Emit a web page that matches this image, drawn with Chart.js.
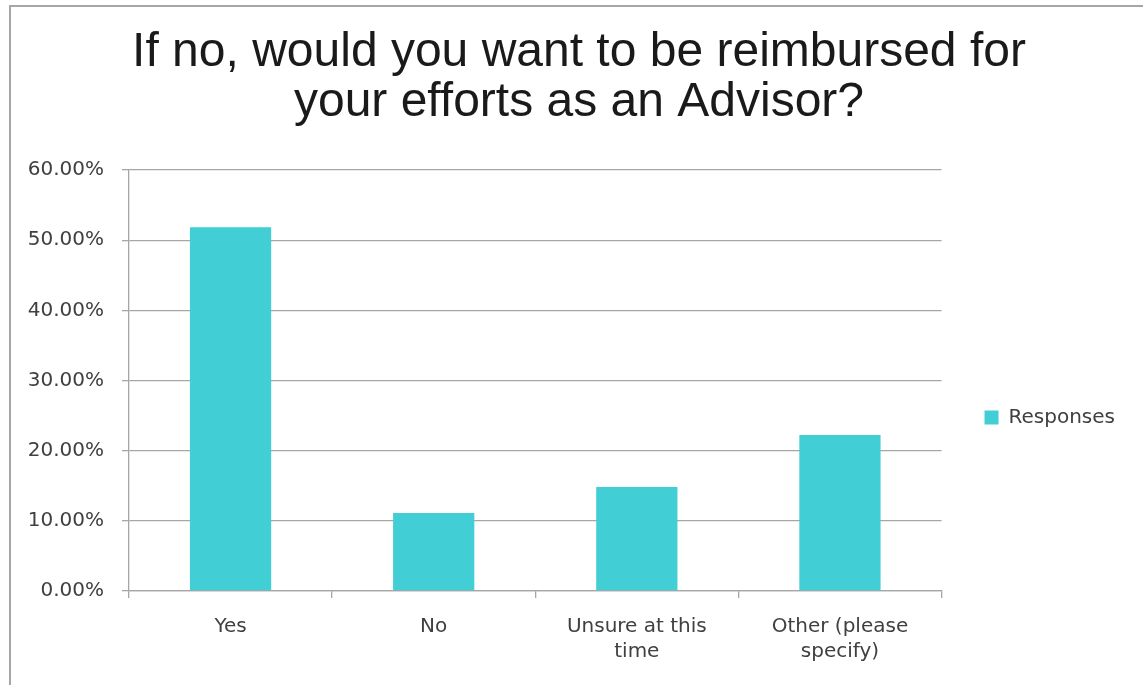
<!DOCTYPE html>
<html>
<head>
<meta charset="utf-8">
<script src="https://cdn.jsdelivr.net/npm/chart.js@4/dist/chart.umd.min.js"></script>
<style>
  html, body { margin: 0; padding: 0; background: #fff; overflow: hidden; }
  .frame {
    position: absolute; left: 9px; top: 5px;
    border-left: 2px solid #a6a6a6; border-top: 2px solid #a6a6a6;
  }
  canvas { display: block; }
</style>
</head>
<body>
<div class="frame">
  <canvas id="reimburseChart" width="1136" height="678"></canvas>
</div>
<script>
  // Respostas da pesquisa (% dos participantes)
  const categories = ['Yes', 'No', ['Unsure at this', 'time'], ['Other (please', 'specify)']];
  const responses = [51.85, 11.11, 14.81, 22.22];
  const yTicks = [0, 10, 20, 30, 40, 50, 60];

  const gridColor = '#a6a6a6';
  const textColor = '#404040';
  const tickFont = { family: '"DejaVu Sans", sans-serif', size: 20 };

  // Título centrado na largura toda; legenda descida um pouco ao lado do gráfico
  const legendDrop = 37;
  const layoutTweaks = {
    id: 'layoutTweaks',
    afterLayout(chart) {
      chart.titleBlock.right = chart.width;
      chart.legend.top = chart.chartArea.top + legendDrop;
      chart.legend.bottom = chart.chartArea.bottom + legendDrop;
    }
  };

  const ctx = document.getElementById('reimburseChart').getContext('2d');
  const reimburseChart = new Chart(ctx, {
    type: 'bar',
    data: {
      labels: categories,
      datasets: [{
        label: 'Responses',
        data: responses,
        backgroundColor: '#41cfd5',
        borderWidth: 0,
        categoryPercentage: 0.8,
        barPercentage: 0.5
      }]
    },
    plugins: [layoutTweaks],
    options: {
      responsive: false,
      animation: false,
      devicePixelRatio: 1,
      layout: { padding: { left: 0, right: 22, top: 0, bottom: 5 } },
      plugins: {
        title: {
          display: true,
          text: ['If no, would you want to be reimbursed for', 'your efforts as an Advisor?'],
          color: '#1a1a1a',
          font: { family: '"Liberation Sans", Arial, sans-serif', size: 48, weight: 'normal', lineHeight: 1.042 },
          padding: { top: 21, bottom: 42 }
        },
        legend: {
          position: 'right',
          fullSize: false,
          labels: {
            boxWidth: 14,
            boxHeight: 14,
            padding: 43,
            color: textColor,
            font: tickFont
          }
        },
        tooltip: { enabled: false }
      },
      scales: {
        x: {
          grid: { drawOnChartArea: false, tickLength: 7, color: gridColor, lineWidth: 1.3 },
          border: { color: gridColor, width: 1.3 },
          ticks: {
            color: textColor,
            padding: 16,
            maxRotation: 0,
            font: { ...tickFont, lineHeight: 1.25 }
          }
        },
        y: {
          min: yTicks[0],
          max: yTicks[yTicks.length - 1],
          afterFit: scale => { scale.width = 118; },
          afterBuildTicks: scale => { scale.ticks = yTicks.map(v => ({ value: v })); },
          grid: { tickLength: 7, color: gridColor, lineWidth: 1.3 },
          border: { color: gridColor, width: 1.3 },
          ticks: {
            color: textColor,
            padding: 18,
            font: tickFont,
            callback: v => v.toFixed(2) + '%'
          }
        }
      }
    }
  });
</script>
</body>
</html>
